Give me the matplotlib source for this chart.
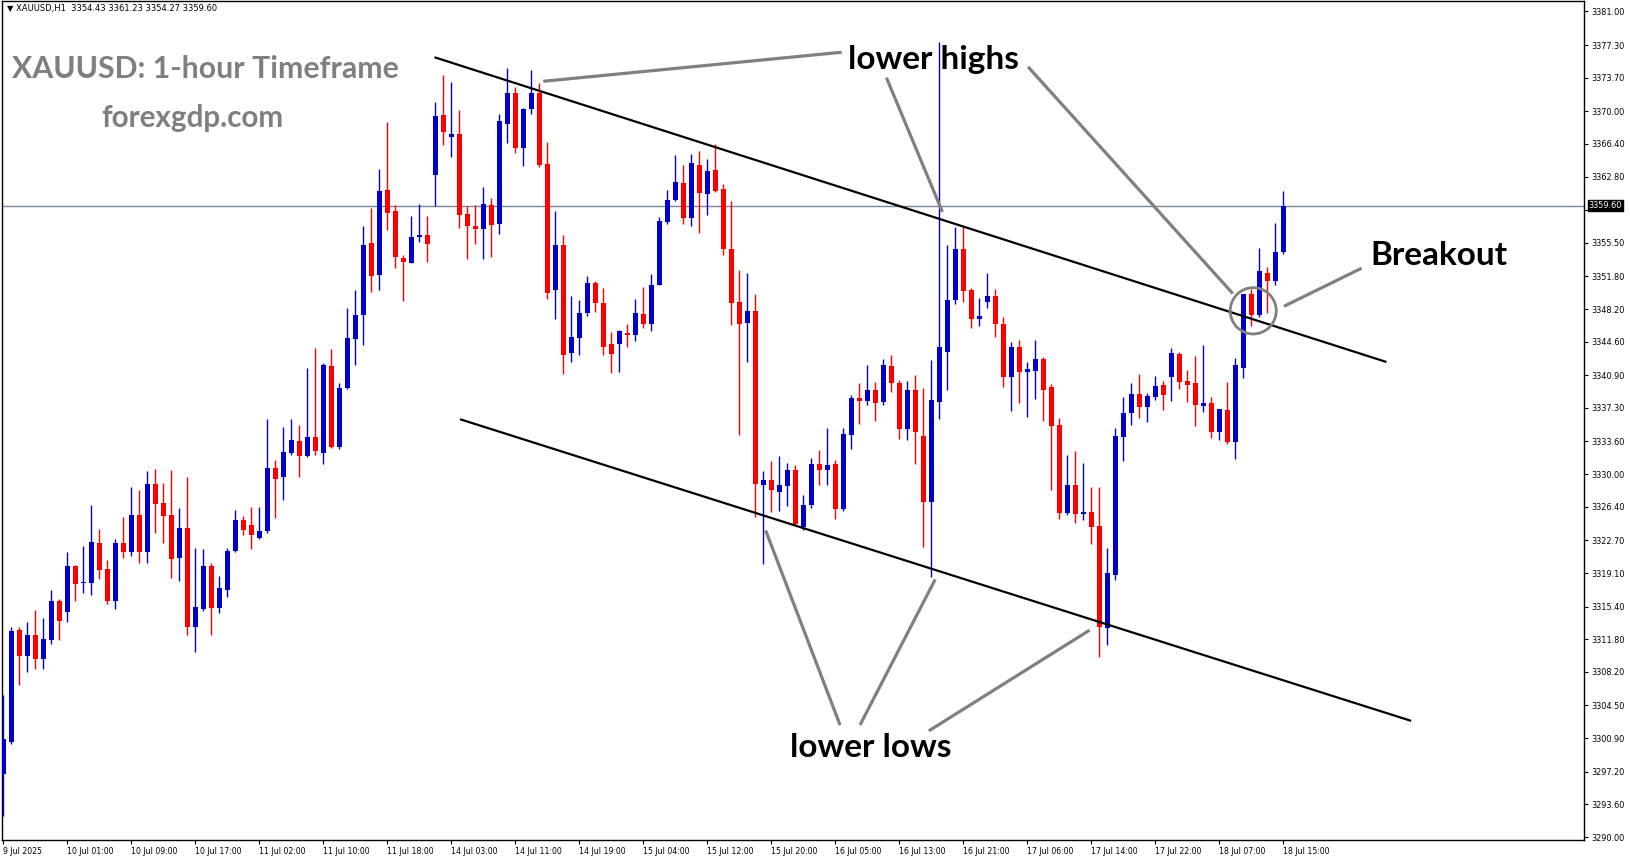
import matplotlib
matplotlib.use("Agg")
import matplotlib.pyplot as plt
from matplotlib.patches import Ellipse

# ---------------- data ----------------
opens = [3296.9, 3300.5, 3312.85, 3309.9, 3312.3, 3309.6, 3311.7, 3316.0, 3314.8, 3319.9,
         3318.0, 3318.0, 3322.4, 3319.5, 3316.0, 3322.4, 3321.4, 3325.5, 3321.4, 3328.9,
         3326.8, 3325.5, 3320.7, 3324.1, 3313.1, 3315.1, 3319.9, 3315.2, 3317.2, 3321.5,
         3324.9, 3324.4, 3323.0, 3323.7, 3330.7, 3329.7, 3332.3, 3333.6, 3332.0, 3334.1,
         3332.3, 3341.9, 3333.0, 3339.5, 3344.9, 3347.5, 3355.5, 3351.9, 3361.3, 3359.0,
         3353.8, 3353.3, 3356.1, 3356.4, 3363.0, 3369.6, 3367.2, 3367.5, 3358.7, 3357.4,
         3357.0, 3359.7, 3357.6, 3368.6, 3372.0, 3365.9, 3370.2, 3372.0, 3364.2, 3350.3,
         3355.2, 3343.4, 3345.0, 3347.8, 3351.1, 3348.9, 3344.3, 3344.3, 3345.6, 3345.3,
         3347.65, 3346.5, 3350.9, 3357.8, 3360.2, 3362.1, 3358.2, 3364.1, 3360.9, 3363.5,
         3361.4, 3354.8, 3348.97, 3346.7, 3348.0, 3328.8, 3329.35, 3328.0, 3328.7, 3330.4,
         3324.2, 3326.6, 3331.1, 3330.4, 3331.1, 3326.2, 3334.3, 3338.4, 3338.05, 3339.3,
         3337.9, 3341.9, 3340.0, 3334.95, 3339.3, 3334.2, 3326.9, 3338.0, 3343.5, 3349.2,
         3354.8, 3350.3, 3347.1, 3349.0, 3349.65, 3346.5, 3340.75, 3344.0, 3341.3, 3341.4,
         3342.7, 3339.6, 3335.4, 3325.75, 3328.8, 3325.6, 3325.8, 3324.3, 3313.0, 3318.9,
         3334.1, 3336.7, 3338.8, 3337.4, 3338.5, 3339.8, 3340.7, 3343.2, 3340.25, 3340.0,
         3337.55, 3337.8, 3334.6, 3337.07, 3333.5, 3341.75, 3349.8, 3347.5, 3352.2, 3351.3,
         3354.43]
highs = [3305.6, 3313.2, 3313.2, 3313.7, 3315.0, 3314.1, 3317.2, 3316.2, 3321.4, 3320.0,
         3322.1, 3326.6, 3323.9, 3320.5, 3322.8, 3325.3, 3328.6, 3328.3, 3330.3, 3330.6,
         3329.0, 3330.5, 3326.3, 3329.7, 3321.9, 3321.8, 3320.2, 3318.8, 3321.9, 3326.0,
         3325.4, 3326.4, 3326.4, 3336.1, 3331.6, 3335.2, 3336.1, 3335.4, 3341.7, 3343.9,
         3342.2, 3343.8, 3340.0, 3348.3, 3350.3, 3357.3, 3359.3, 3363.6, 3368.8, 3359.7,
         3354.2, 3358.4, 3359.8, 3358.4, 3371.0, 3374.0, 3373.2, 3370.1, 3359.5, 3359.7,
         3361.6, 3360.4, 3369.7, 3374.8, 3372.7, 3370.4, 3374.5, 3373.1, 3366.6, 3359.0,
         3356.4, 3349.6, 3349.2, 3351.8, 3351.3, 3350.5, 3345.7, 3345.9, 3346.6, 3349.3,
         3350.6, 3352.1, 3358.3, 3361.3, 3365.2, 3364.1, 3365.3, 3365.6, 3364.7, 3366.4,
         3362.0, 3360.1, 3352.5, 3352.2, 3349.85, 3330.35, 3331.4, 3332.0, 3331.2, 3331.0,
         3327.7, 3331.8, 3332.7, 3335.1, 3331.6, 3335.1, 3338.75, 3340.0, 3342.0, 3340.1,
         3342.7, 3343.1, 3340.4, 3340.3, 3340.9, 3339.5, 3342.6, 3377.6, 3355.3, 3357.2,
         3357.2, 3350.5, 3349.4, 3352.2, 3350.35, 3347.3, 3344.6, 3344.8, 3342.35, 3344.8,
         3342.9, 3339.9, 3336.15, 3332.1, 3332.5, 3331.25, 3328.6, 3328.6, 3321.9, 3335.1,
         3338.5, 3340.0, 3341.0, 3338.9, 3340.8, 3340.3, 3343.95, 3343.5, 3341.5, 3343.0,
         3344.2, 3338.5, 3337.2, 3340.15, 3342.75, 3349.9, 3350.4, 3354.9, 3352.8, 3357.7,
         3361.23]
lows = [3292.3, 3300.3, 3306.7, 3308.2, 3308.5, 3308.5, 3311.3, 3311.7, 3313.7, 3316.0,
        3316.9, 3316.7, 3318.4, 3315.7, 3315.1, 3320.8, 3321.0, 3320.2, 3320.2, 3323.5,
        3322.4, 3318.5, 3318.2, 3312.3, 3310.4, 3314.9, 3312.3, 3314.7, 3316.5, 3321.4,
        3323.3, 3321.8, 3322.9, 3323.5, 3325.2, 3327.1, 3332.1, 3329.7, 3331.9, 3332.1,
        3331.1, 3332.9, 3332.8, 3339.4, 3342.0, 3344.2, 3350.1, 3350.3, 3356.9, 3352.7,
        3349.1, 3353.3, 3355.6, 3353.4, 3359.55, 3366.3, 3364.9, 3357.1, 3353.7, 3355.4,
        3353.7, 3353.9, 3356.5, 3366.5, 3365.4, 3364.0, 3369.7, 3363.9, 3349.3, 3347.1,
        3341.0, 3342.4, 3343.1, 3347.4, 3347.9, 3343.1, 3341.1, 3341.3, 3344.0, 3344.7,
        3346.1, 3345.8, 3350.8, 3357.6, 3360.1, 3357.6, 3357.4, 3356.6, 3358.6, 3361.1,
        3354.2, 3346.4, 3334.35, 3342.4, 3325.3, 3320.1, 3325.8, 3325.9, 3326.5, 3324.4,
        3323.8, 3326.3, 3328.8, 3328.8, 3325.0, 3325.9, 3332.8, 3335.5, 3337.65, 3335.85,
        3337.65, 3339.1, 3333.9, 3333.8, 3331.1, 3322.0, 3318.65, 3336.05, 3339.3, 3348.8,
        3349.0, 3346.1, 3346.3, 3348.35, 3345.1, 3339.6, 3337.0, 3337.8, 3336.3, 3338.3,
        3335.8, 3328.2, 3325.05, 3325.5, 3324.65, 3324.9, 3322.3, 3309.8, 3311.2, 3318.3,
        3331.4, 3335.4, 3336.2, 3335.7, 3338.2, 3337.06, 3338.05, 3339.4, 3337.95, 3335.3,
        3336.8, 3334.0, 3333.8, 3333.3, 3331.7, 3340.6, 3346.3, 3347.3, 3347.8, 3350.8,
        3354.27]
closes = [3300.8, 3312.75, 3310.0, 3312.3, 3309.6, 3311.8, 3316.0, 3313.8, 3319.9, 3317.9,
          3318.1, 3322.5, 3319.4, 3316.0, 3322.4, 3321.4, 3325.5, 3321.4, 3328.9, 3326.7,
          3325.4, 3320.6, 3324.1, 3313.1, 3315.3, 3319.9, 3315.2, 3317.5, 3321.5, 3324.9,
          3323.8, 3323.3, 3323.7, 3330.7, 3329.5, 3332.4, 3333.8, 3332.0, 3334.1, 3332.5,
          3342.0, 3333.0, 3339.5, 3345.0, 3347.5, 3355.3, 3351.8, 3361.2, 3358.8, 3353.9,
          3353.4, 3356.1, 3356.4, 3355.4, 3369.5, 3367.7, 3367.5, 3358.6, 3357.3, 3357.0,
          3359.8, 3357.5, 3368.9, 3372.0, 3365.9, 3370.2, 3372.0, 3364.1, 3350.0, 3355.2,
          3343.1, 3345.1, 3347.8, 3351.1, 3348.9, 3344.05, 3343.2, 3345.8, 3345.3, 3347.8,
          3346.5, 3350.9, 3357.9, 3360.2, 3362.2, 3358.2, 3364.3, 3361.0, 3363.4, 3361.2,
          3354.8, 3348.9, 3346.6, 3348.0, 3328.95, 3329.35, 3328.2, 3328.8, 3330.4, 3324.5,
          3326.6, 3331.1, 3330.4, 3331.0, 3326.2, 3334.4, 3338.4, 3338.05, 3339.3, 3337.8,
          3342.0, 3340.0, 3334.95, 3339.3, 3334.6, 3326.9, 3338.2, 3344.0, 3349.2, 3354.8,
          3350.2, 3347.1, 3347.45, 3349.65, 3346.5, 3340.75, 3344.0, 3341.3, 3341.6, 3342.7,
          3339.3, 3335.3, 3325.75, 3328.8, 3325.6, 3325.8, 3324.2, 3313.1, 3319.1, 3334.2,
          3336.7, 3338.8, 3337.4, 3338.6, 3339.7, 3338.75, 3343.3, 3340.2, 3339.85, 3337.65,
          3337.8, 3334.6, 3337.2, 3333.5, 3342.0, 3349.9, 3347.5, 3352.4, 3351.3, 3354.5,
          3359.60]

time_labels = ["9 Jul 2025", "10 Jul 01:00", "10 Jul 09:00", "10 Jul 17:00", "11 Jul 02:00",
               "11 Jul 10:00", "11 Jul 18:00", "14 Jul 03:00", "14 Jul 11:00", "14 Jul 19:00",
               "15 Jul 04:00", "15 Jul 12:00", "15 Jul 20:00", "16 Jul 05:00", "16 Jul 13:00",
               "16 Jul 21:00", "17 Jul 06:00", "17 Jul 14:00", "17 Jul 22:00", "18 Jul 07:00",
               "18 Jul 15:00"]
time_label_bars = list(range(0, 161, 8))

price_ticks = [3381.00, 3377.30, 3373.70, 3370.00, 3366.40, 3362.80, 3359.10, 3355.50,
               3351.80, 3348.20, 3344.60, 3340.90, 3337.30, 3333.60, 3330.00, 3326.40,
               3322.70, 3319.10, 3315.40, 3311.80, 3308.20, 3304.50, 3300.90, 3297.20,
               3293.60, 3290.00]
last_price = 3359.60
header = "XAUUSD,H1  3354.43 3361.23 3354.27 3359.60"

# channel lines (bar index, price)
upper_channel = ([53.9, 172.9], [3375.95, 3342.36])
lower_channel = ([57.1, 176.0], [3336.05, 3302.8])

# ---------------- figure ----------------
W, H = 1631, 861
fig = plt.figure(figsize=(W / 100, H / 100), dpi=100)
ax = fig.add_axes([2 / W, 21 / H, 1582 / W, 839 / H])
ax.set_xlim(-0.16, 197.6)
ax.set_ylim(3289.67, 3382.15)

BULL = "#0000CD"
BEAR = "#FF0000"
n = len(opens)
xs = list(range(n))
cols = [BULL if c >= o else BEAR for o, c in zip(opens, closes)]
ax.vlines(xs, lows, highs, colors=cols, linewidth=1.0, zorder=3)
bottoms = [min(o, c) for o, c in zip(opens, closes)]
heights = [max(abs(c - o), 0.12) for o, c in zip(opens, closes)]
ax.bar(xs, heights, bottom=bottoms, width=0.62, color=cols, edgecolor=cols,
       linewidth=0.0, zorder=4)

# current price line
ax.axhline(last_price, color="#778899", linewidth=1.0, zorder=2)

# channel lines
ax.plot(*upper_channel, color="black", linewidth=1.6, zorder=5, solid_capstyle="butt")
ax.plot(*lower_channel, color="black", linewidth=1.6, zorder=5, solid_capstyle="butt")

# gray pointer lines
GRAY = "#808080"
pointers = [
    ([67.5, 104.8], [3373.3, 3376.5]),
    ([110.4, 117.4], [3373.7, 3358.9]),
    ([128.1, 153.7], [3374.9, 3349.9]),
    ([160.1, 169.8], [3348.5, 3352.7]),
    ([104.6, 95.3], [3302.35, 3323.8]),
    ([107.1, 116.5], [3302.35, 3318.4]),
    ([115.7, 135.8], [3301.7, 3312.8]),
]
for px, py in pointers:
    ax.plot(px, py, color=GRAY, linewidth=2.3, zorder=6, solid_capstyle="butt")
ax.add_patch(Ellipse((156.25, 3348.0), 5.75, 5.1, fill=False, edgecolor=GRAY,
                     linewidth=2.0, zorder=6))

# annotation texts
TF = ["Lato", "DejaVu Sans"]
ax.text(25.3, 3374.7, "XAUUSD: 1-hour Timeframe", fontsize=21.8, fontweight="bold",
        color="#7f7f7f", ha="center", va="center", family=TF, zorder=7)
ax.text(23.6, 3369.2, "forexgdp.com", fontsize=21.3, fontweight="bold",
        color="#7f7f7f", ha="center", va="center", family=TF, zorder=7)
ax.text(116.3, 3375.7, "lower highs", fontsize=24, fontweight="bold",
        color="black", ha="center", va="center", family=TF, zorder=7)
ax.text(108.5, 3299.9, "lower lows", fontsize=24, fontweight="bold",
        color="black", ha="center", va="center", family=TF, zorder=7)
ax.text(179.5, 3354.05, "Breakout", fontsize=24, fontweight="bold",
        color="black", ha="center", va="center", family=TF, zorder=7)

# header
ax.text(0.003, 0.9965, "\u25BC " + header, transform=ax.transAxes, fontsize=6.0,
        color="black", ha="left", va="top", zorder=7)

# axes styling
for s in ax.spines.values():
    s.set_color("black")
    s.set_linewidth(1.0)
ax.yaxis.tick_right()
ax.set_yticks(price_ticks)
# the 3359.10 label sits under the current-price box, as in the original
ax.set_yticklabels(["" if abs(p - last_price) < 1.0 else f"{p:.2f}" for p in price_ticks])
ax.tick_params(axis="y", direction="out", length=3, width=0.8, pad=2,
               labelsize=5.9, colors="black")
ax.set_xticks(time_label_bars)
ax.set_xticklabels(time_labels, ha="left")
ax.tick_params(axis="x", direction="out", length=3, width=0.8, pad=2,
               labelsize=5.6, colors="black")

# current price box
ax.text(1.003, last_price, f"{last_price:.2f}", transform=ax.get_yaxis_transform(),
        fontsize=5.9, color="white", ha="left", va="center", zorder=10,
        bbox=dict(boxstyle="square,pad=0.15", facecolor="black", edgecolor="black"),
        clip_on=False)

fig.savefig("out.png", dpi=100, facecolor="white")
